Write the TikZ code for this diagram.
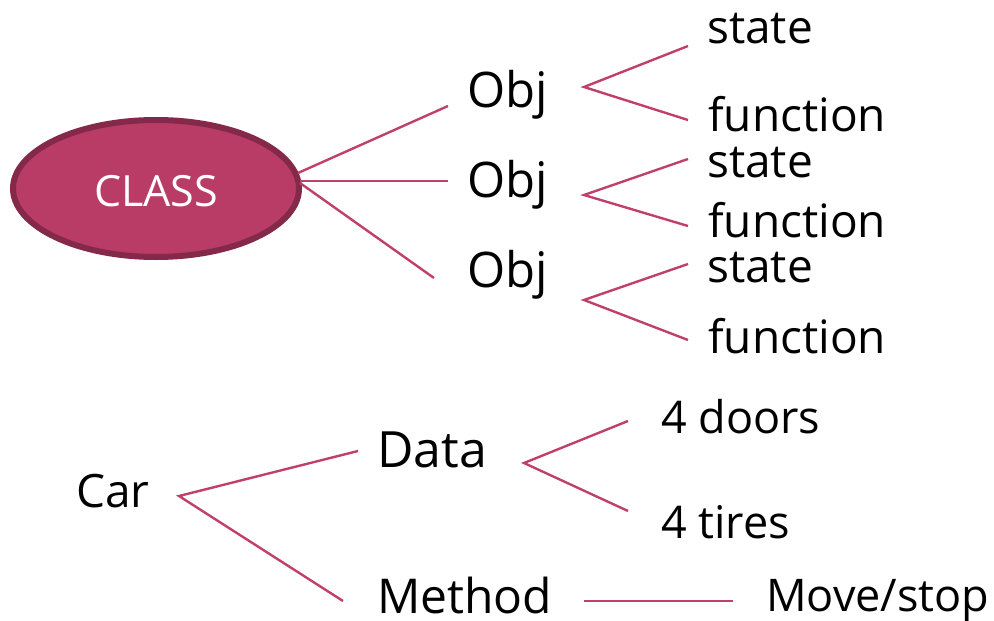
\documentclass[tikz,border=0pt]{standalone}
\usepackage{fontspec}
\setmainfont{Open Sans}
\usetikzlibrary{shapes.geometric}
\definecolor{linkc}{HTML}{C0406C}
\definecolor{ovalfill}{HTML}{B83C66}
\definecolor{ovaldraw}{HTML}{85294A}
\begin{document}
\begin{tikzpicture}[x=1pt,y=-1pt,
  link/.style={draw=linkc,line width=2.4pt},
  lbl/.style={anchor=base west,inner sep=0pt,font=\fontsize{46}{54}\selectfont},
  big/.style={anchor=base west,inner sep=0pt,font=\fontsize{49}{58}\selectfont}]
\useasboundingbox (0,0) rectangle (994,621);
% class oval
\node[ellipse,fill=ovalfill,draw=ovaldraw,line width=6pt,minimum width=286pt,minimum height=137pt,inner sep=0pt] (class) at (156,188.5) {};
\node[anchor=base,inner sep=0pt,text=white,font=\fontsize{43}{52}\selectfont] (classlbl) at (156,206) {CLASS};
% objects
\node[big] (obj1) at (467,107) {Obj};
\node[big] (obj2) at (467,197) {Obj};
\node[big] (obj3) at (467,287) {Obj};
% leaves
\node[lbl] (st1) at (707,43) {state};
\node[lbl] (fn1) at (708,131) {function};
\node[lbl] (st2) at (707,177) {state};
\node[lbl] (fn2) at (708,237) {function};
\node[lbl] (st3) at (707,282) {state};
\node[lbl] (fn3) at (708,353) {function};
% car tree
\node[lbl] (car) at (76,507) {Car};
\node[big,font=\fontsize{50}{58}\selectfont] (data) at (377,467) {Data};
\node[lbl,font=\fontsize{48}{56}\selectfont] (method) at (377,613) {Method};
\node[lbl,font=\fontsize{45}{52}\selectfont] (doors) at (661,433) {4 doors};
\node[lbl,font=\fontsize{45}{52}\selectfont] (tires) at (661,538) {4 tires};
\node[lbl,font=\fontsize{45}{52}\selectfont] (move) at (766,611) {Move/stop};
% connector points
\coordinate (c1) at (298,173);
\coordinate (c2) at (300,181);
\coordinate (c3) at (300,183);
\coordinate (o1in) at (448,106);
\coordinate (o2in) at (448,181);
\coordinate (o3in) at (434,278);
\coordinate (a1) at (584,87);
\coordinate (a1t) at (688,46);
\coordinate (a1b) at (688,120);
\coordinate (a2) at (584,195);
\coordinate (a2t) at (688,159);
\coordinate (a2b) at (688,226);
\coordinate (a3) at (584,300);
\coordinate (a3t) at (688,264);
\coordinate (a3b) at (688,340);
\coordinate (ca) at (179,496);
\coordinate (cat) at (358,451);
\coordinate (cab) at (343,601);
\coordinate (da) at (524,463);
\coordinate (dat) at (628,421);
\coordinate (dab) at (628,511);
\coordinate (ms) at (584,601);
\coordinate (me) at (733,601);
% connectors
\draw[link] (c1) -- (o1in);
\draw[link] (c2) -- (o2in);
\draw[link] (c3) -- (o3in);
\draw[link] (a1t) -- (a1) -- (a1b);
\draw[link] (a2t) -- (a2) -- (a2b);
\draw[link] (a3t) -- (a3) -- (a3b);
\draw[link] (cat) -- (ca) -- (cab);
\draw[link] (dat) -- (da) -- (dab);
\draw[link] (ms) -- (me);
\end{tikzpicture}
\end{document}
